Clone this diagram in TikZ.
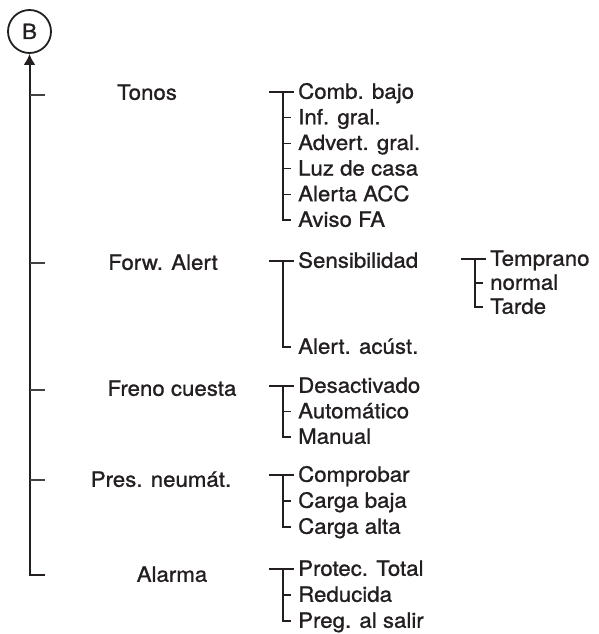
\documentclass[tikz,border=0pt]{standalone}
\usepackage{fontspec}
\setmainfont{TeX Gyre Heros}[FakeStretch=1.06,FakeBold=1]
\usepackage{xcolor}
\definecolor{ink}{HTML}{231F20}
\usepackage{tikz}
\usetikzlibrary{positioning,arrows.meta}

\begin{document}
\begin{tikzpicture}[
  x=1pt,y=-1pt,
  font=\fontsize{21}{24}\selectfont,
  color=ink,
  head/.style={anchor=center,inner sep=0pt,text height=15pt,text depth=1.5pt},
  item/.style={anchor=west,inner xsep=7pt,inner ysep=0pt,text height=15pt,text depth=1.5pt},
  trunk/.style={draw=ink,line width=2pt},
  brk/.style={draw=ink,line width=1.3pt}
]
\useasboundingbox (0,0) rectangle (598,634);

\node[draw=ink,circle,line width=1.8pt,minimum size=43pt,inner sep=0pt,text height=15pt,text depth=0pt] (B) at (29.5,31.5) {B};

% first level
\node[head] (tonos) at (147,93) {Tonos};
\node[head] (forw) at (163,263) {Forw. Alert};
\node[head] (freno) at (172,389) {Freno cuesta};
\node[head] (pres) at (161,480) {Pres. neumát.};
\node[head] (alarma) at (172,575) {Alarma};

\coordinate (k1) at (29.5,95);
\coordinate (k2) at (29.5,263);
\coordinate (k3) at (29.5,390);
\coordinate (k4) at (29.5,480);
\coordinate (k5) at (45,575);

\draw[trunk,-{Latex[length=11pt,width=12pt]}] (k5) -| (B.south);
\foreach \k in {k1,k2,k3,k4} \draw[brk,ink!85] (\k) -- ++(15.5,0);

% Tonos
\node[item] (comb) at (291,92) {Comb. bajo};
\node[item] (inf) at (291,117.6) {Inf. gral.};
\node[item] (advert) at (291,143.2) {Advert. gral.};
\node[item] (luz) at (291,168.8) {Luz de casa};
\node[item] (alerta) at (291,194.4) {Alerta ACC};
\node[item] (aviso) at (291,220) {Aviso FA};
\draw[brk] ([xshift=-22pt]comb.west) -- ([xshift=3pt]comb.west);
\draw[brk] ([xshift=-8pt]comb.west) |- (aviso.west);
\foreach \n in {inf,advert,luz,alerta} \draw[brk] ([xshift=-8pt]\n.west) -- (\n.west);

% Forw. Alert
\node[item] (sens) at (291,261) {Sensibilidad};
\node[item] (acust) at (291,347) {Alert. acúst.};
\draw[brk] ([xshift=-22pt]sens.west) -- ([xshift=3pt]sens.west);
\draw[brk] ([xshift=-8pt]sens.west) |- (acust.west);

\node[item] (temprano) at (483,259) {Temprano};
\node[item] (normal) at (483,283) {normal};
\node[item] (tarde) at (483,307) {Tarde};
\draw[brk] ([xshift=-22pt]temprano.west) -- ([xshift=3pt]temprano.west);
\draw[brk] ([xshift=-8pt]temprano.west) |- (tarde.west);
\draw[brk] ([xshift=-8pt]normal.west) -- (normal.west);

% Freno cuesta
\node[item] (desact) at (291,386) {Desactivado};
\node[item] (auto) at (291,411.5) {Automático};
\node[item] (manual) at (291,437) {Manual};
\draw[brk] ([xshift=-22pt]desact.west) -- ([xshift=3pt]desact.west);
\draw[brk] ([xshift=-8pt]desact.west) |- (manual.west);
\draw[brk] ([xshift=-8pt]auto.west) -- (auto.west);

% Pres. neumat.
\node[item] (compr) at (291,475) {Comprobar};
\node[item] (cbaja) at (291,501) {Carga baja};
\node[item] (calta) at (291,527) {Carga alta};
\draw[brk] ([xshift=-22pt]compr.west) -- ([xshift=3pt]compr.west);
\draw[brk] ([xshift=-8pt]compr.west) |- (calta.west);
\draw[brk] ([xshift=-8pt]cbaja.west) -- (cbaja.west);

% Alarma
\node[item] (protec) at (291,569) {Protec. Total};
\node[item] (reduc) at (291,595) {Reducida};
\node[item] (preg) at (291,621) {Preg. al salir};
\draw[brk] ([xshift=-22pt]protec.west) -- ([xshift=3pt]protec.west);
\draw[brk] ([xshift=-8pt]protec.west) |- (preg.west);
\draw[brk] ([xshift=-8pt]reduc.west) -- (reduc.west);
\end{tikzpicture}
\end{document}
